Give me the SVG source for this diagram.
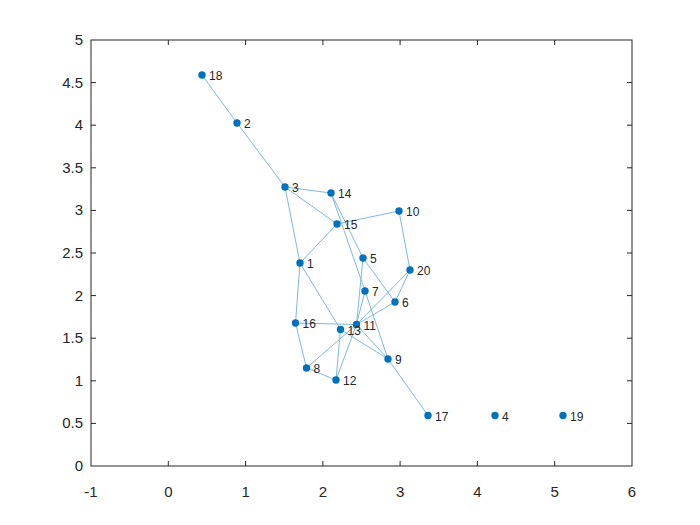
<svg xmlns="http://www.w3.org/2000/svg" width="700" height="525" viewBox="0 0 700 525">
<style>
.ax{fill:none;stroke:#262626;stroke-width:1}
.tk{stroke:#262626;stroke-width:1}
.tl{font-family:"Liberation Sans",Arial,sans-serif;font-size:15px;fill:#262626}
.e{stroke:#7fb8de;stroke-width:1;fill:none}
.n{fill:#0072bd}
.lb{font-family:"Liberation Sans",Arial,sans-serif;font-size:12px;fill:#262626}
</style>
<rect width="700" height="525" fill="#fff"/>
<g id="axes">
<rect class="ax" x="91" y="40" width="541" height="426"/>
<g class="tk">
<path d="M168.3,466v-5M245.6,466v-5M322.9,466v-5M400.1,466v-5M477.4,466v-5M554.7,466v-5M168.3,40v5M245.6,40v5M322.9,40v5M400.1,40v5M477.4,40v5M554.7,40v5"/>
<path d="M91,423.4h5M91,380.8h5M91,338.2h5M91,295.6h5M91,253h5M91,210.4h5M91,167.8h5M91,125.2h5M91,82.6h5M632,423.4h-5M632,380.8h-5M632,338.2h-5M632,295.6h-5M632,253h-5M632,210.4h-5M632,167.8h-5M632,125.2h-5M632,82.6h-5"/>
</g>
<g class="tl" text-anchor="middle">
<text x="91" y="497">-1</text><text x="168.3" y="497">0</text><text x="245.6" y="497">1</text><text x="322.9" y="497">2</text><text x="400.1" y="497">3</text><text x="477.4" y="497">4</text><text x="554.7" y="497">5</text><text x="632" y="497">6</text>
</g>
<g class="tl" text-anchor="end">
<text x="83" y="471">0</text><text x="83" y="428.4">0.5</text><text x="83" y="385.8">1</text><text x="83" y="343.2">1.5</text><text x="83" y="300.6">2</text><text x="83" y="258">2.5</text><text x="83" y="215.4">3</text><text x="83" y="172.8">3.5</text><text x="83" y="130.2">4</text><text x="83" y="87.6">4.5</text><text x="83" y="45">5</text>
</g>
</g>
<g id="edges" class="e">
<line x1="202" y1="75" x2="237" y2="123"/>
<line x1="237" y1="123" x2="285" y2="187"/>
<line x1="285" y1="187" x2="331" y2="193"/>
<line x1="285" y1="187" x2="337" y2="224"/>
<line x1="285" y1="187" x2="300" y2="263"/>
<line x1="331" y1="193" x2="363" y2="258"/>
<line x1="331" y1="193" x2="365" y2="291"/>
<line x1="365" y1="291" x2="388" y2="359"/>
<line x1="337" y1="224" x2="300" y2="263"/>
<line x1="337" y1="224" x2="399" y2="211"/>
<line x1="399" y1="211" x2="410" y2="270"/>
<line x1="410" y1="270" x2="395" y2="302"/>
<line x1="410" y1="270" x2="356.5" y2="324.5"/>
<line x1="363" y1="258" x2="395" y2="302"/>
<line x1="363" y1="258" x2="356.5" y2="324.5"/>
<line x1="365" y1="291" x2="356.5" y2="324.5"/>
<line x1="395" y1="302" x2="356.5" y2="324.5"/>
<line x1="300" y1="263" x2="295.5" y2="323"/>
<line x1="300" y1="263" x2="340.5" y2="329.5"/>
<line x1="295.5" y1="323" x2="356.5" y2="324.5"/>
<line x1="295.5" y1="323" x2="306.5" y2="368"/>
<line x1="306.5" y1="368" x2="336" y2="380"/>
<line x1="306.5" y1="368" x2="356.5" y2="324.5"/>
<line x1="340.5" y1="329.5" x2="336" y2="380"/>
<line x1="356.5" y1="324.5" x2="336" y2="380"/>
<line x1="340.5" y1="329.5" x2="388" y2="359"/>
<line x1="356.5" y1="324.5" x2="388" y2="359"/>
<line x1="388" y1="359" x2="428" y2="415.5"/>
</g>
<g id="n1"><circle class="n" cx="300" cy="263" r="3.7"/><text class="lb" x="307" y="268">1</text></g>
<g id="n2"><circle class="n" cx="237" cy="123" r="3.7"/><text class="lb" x="244" y="128">2</text></g>
<g id="n3"><circle class="n" cx="285" cy="187" r="3.7"/><text class="lb" x="292" y="192">3</text></g>
<g id="n4"><circle class="n" cx="495" cy="415.5" r="3.7"/><text class="lb" x="502" y="420.5">4</text></g>
<g id="n5"><circle class="n" cx="363" cy="258" r="3.7"/><text class="lb" x="370" y="263">5</text></g>
<g id="n6"><circle class="n" cx="395" cy="302" r="3.7"/><text class="lb" x="402" y="307">6</text></g>
<g id="n7"><circle class="n" cx="365" cy="291" r="3.7"/><text class="lb" x="372" y="296">7</text></g>
<g id="n8"><circle class="n" cx="306.5" cy="368" r="3.7"/><text class="lb" x="313.5" y="373">8</text></g>
<g id="n9"><circle class="n" cx="388" cy="359" r="3.7"/><text class="lb" x="395" y="364">9</text></g>
<g id="n10"><circle class="n" cx="399" cy="211" r="3.7"/><text class="lb" x="406" y="216">10</text></g>
<g id="n11"><circle class="n" cx="356.5" cy="324.5" r="3.7"/><text class="lb" x="363.5" y="329.5">11</text></g>
<g id="n12"><circle class="n" cx="336" cy="380" r="3.7"/><text class="lb" x="343" y="385">12</text></g>
<g id="n13"><circle class="n" cx="340.5" cy="329.5" r="3.7"/><text class="lb" x="347.5" y="334.5">13</text></g>
<g id="n14"><circle class="n" cx="331" cy="193" r="3.7"/><text class="lb" x="338" y="198">14</text></g>
<g id="n15"><circle class="n" cx="337" cy="224" r="3.7"/><text class="lb" x="344" y="229">15</text></g>
<g id="n16"><circle class="n" cx="295.5" cy="323" r="3.7"/><text class="lb" x="302.5" y="328">16</text></g>
<g id="n17"><circle class="n" cx="428" cy="415.5" r="3.7"/><text class="lb" x="435" y="420.5">17</text></g>
<g id="n18"><circle class="n" cx="202" cy="75" r="3.7"/><text class="lb" x="209" y="80">18</text></g>
<g id="n19"><circle class="n" cx="563" cy="415.5" r="3.7"/><text class="lb" x="570" y="420.5">19</text></g>
<g id="n20"><circle class="n" cx="410" cy="270" r="3.7"/><text class="lb" x="417" y="275">20</text></g>
</svg>
